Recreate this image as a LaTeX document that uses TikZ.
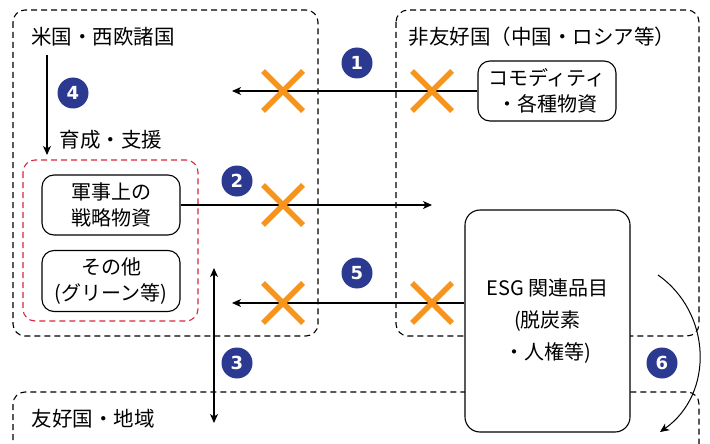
\documentclass[tikz,border=0pt]{standalone}
\usepackage{fontspec}
\setmainfont{Noto Sans CJK JP}
\newfontfamily\numfont{DejaVu Sans}
\usetikzlibrary{arrows.meta}
\definecolor{navy}{HTML}{2B3990}
\definecolor{xorange}{HTML}{F7941D}
\definecolor{dred}{HTML}{D9263A}
\begin{document}
\begin{tikzpicture}[x=1pt,y=-1pt,
  region/.style={draw, line width=1.1pt, dash pattern=on 6pt off 4pt, rounded corners=12pt},
  redregion/.style={draw=dred, line width=1.1pt, dash pattern=on 6pt off 4pt, rounded corners=12pt},
  item/.style={draw, line width=1.1pt, rounded corners=12pt, fill=white, align=center, inner sep=0pt,
    font=\fontsize{20}{26}\selectfont},
  lbl/.style={inner sep=0pt, font=\fontsize{20.5}{24}\selectfont},
  num/.style={circle, fill=navy, text=white, minimum size=31pt, inner sep=0pt,
    font=\numfont\bfseries\fontsize{18}{18}\selectfont},
  arr/.style={line width=1.1pt, -{Stealth[length=9pt,width=8pt,inset=2.5pt]}},
  darr/.style={line width=1.1pt, {Stealth[length=9pt,width=8pt,inset=2.5pt]}-{Stealth[length=9pt,width=8pt,inset=2.5pt]}},
  xline/.style={xorange, line width=5.5pt},
  xmark/.pic={\draw[xline] (-20,-20) -- (20,20) (-20,20) -- (20,-20);}
]
\useasboundingbox (0,0) rectangle (710,444);

% regions
\draw[region] (13,10) rectangle (318,336);
\draw[region] (396,10) rectangle (699,336);
\draw[region] (13,450) -- (13,392) -- (699,392) -- (699,450);
\draw[redregion] (23,160) rectangle (198,321);

% labels
\node[lbl] (west) at (103,37) {米国・西欧諸国};
\node[lbl] (hostile) at (542,37) {非友好国（中国・ロシア等）};
\node[lbl] (friend) at (93,419) {友好国・地域};
\node[lbl] (support) at (111,140) {育成・支援};

% items
\node[item, minimum width=138pt, minimum height=60pt] (comm) at (547,91) {コモディティ\\・各種物資};
\node[item, minimum width=138pt, minimum height=60pt] (mil) at (111,205) {軍事上の\\戦略物資};
\node[item, minimum width=138pt, minimum height=61pt] (other) at (111,281) {その他\\(グリーン等)};
\node[item, rounded corners=15pt, minimum width=165pt, minimum height=222pt,
  font=\fontsize{20}{32}\selectfont] (esg) at (547.5,321) {ESG 関連品目\\(脱炭素\\・人権等)};

% free ends
\coordinate (a1end) at (232,91);
\coordinate (a2end) at (432,205);
\coordinate (a5end) at (232,303);
\coordinate (a3top) at (214,268);
\coordinate (a3bot) at (214,423);
\coordinate (a4top) at (47,55);
\coordinate (a4bot) at (47,155);
\coordinate (a6start) at (658,275);
\coordinate (a6end) at (660,432);

% connectors
\draw[arr] (comm.west) -- (a1end);
\draw[arr] (mil.east) -- (a2end);
\draw[arr] (a5end -| esg.west) -- (a5end);
\draw[darr] (a3top) -- (a3bot);
\draw[arr] (a4top) -- (a4bot);
\draw[line width=1pt, -{Stealth[length=9pt,width=8pt,inset=2.5pt]}] (a6start) .. controls (712,313) and (714,394) .. (a6end);

% crosses
\pic at (283,91) {xmark};
\pic at (432,91) {xmark};
\pic at (283,205) {xmark};
\pic at (283,303) {xmark};
\pic at (432,303) {xmark};

% numbers
\node[num] (n1) at (357,63) {1};
\node[num] (n2) at (237,181) {2};
\node[num] (n3) at (237,363) {3};
\node[num] (n4) at (73,93) {4};
\node[num] (n5) at (357,273) {5};
\node[num] (n6) at (662,363) {6};
\end{tikzpicture}
\end{document}
